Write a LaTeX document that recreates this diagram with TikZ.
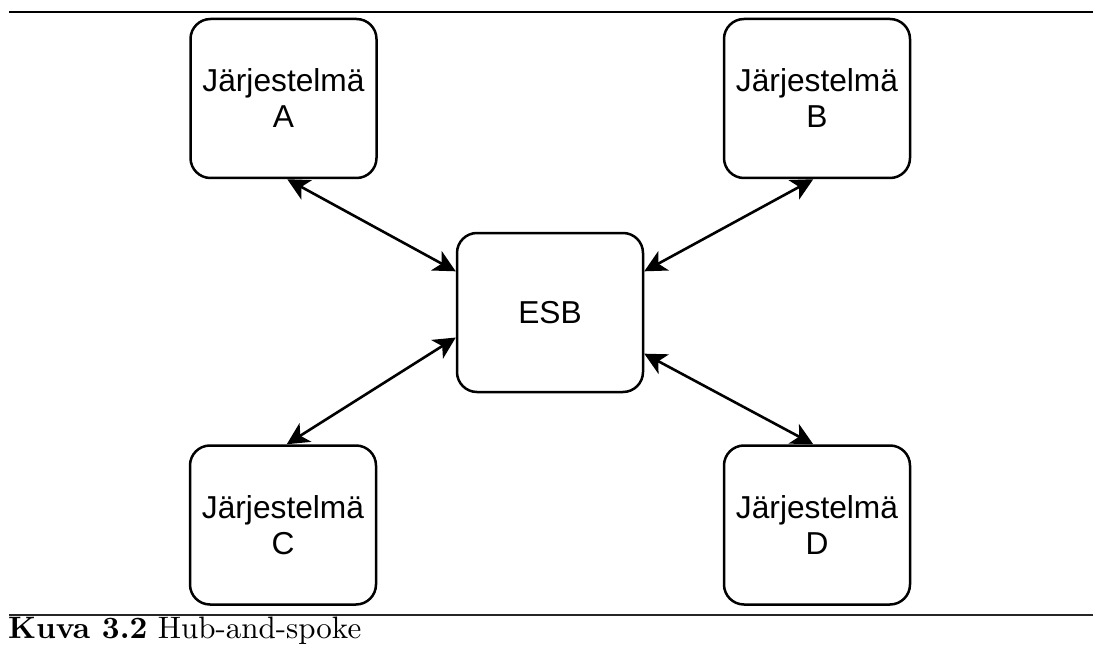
\documentclass[tikz,border=0pt]{standalone}
\usepackage{fontspec}
\newfontfamily\sysfont{Liberation Sans}
\newfontfamily\capfont{lmroman10-regular.otf}[BoldFont=lmroman10-bold.otf]
\usetikzlibrary{arrows.meta,calc}
\begin{document}
\begin{tikzpicture}[x=1pt,y=-1pt,
  sysbox/.style={draw, line width=2.5pt, rounded corners=20pt,
    minimum width=186pt, minimum height=159pt, inner sep=0pt, align=center,
    font={\sysfont\fontsize{31.7}{36}\selectfont}},
  link/.style={line width=2.6pt,
    {Stealth[length=22pt,width=22pt,inset=6pt]}-{Stealth[length=22pt,width=22pt,inset=6pt]}}]
\useasboundingbox (0,0) rectangle (1093,650);
% rules
\coordinate (tl) at (9,12);
\coordinate (tr) at (1093,12);
\coordinate (bl) at (9,615);
\coordinate (br) at (1093,615);
\draw[line width=2.5pt] (tl) -- (tr);
\draw[line width=1.5pt, black!85] (bl) -- (br);
% boxes
\node[sysbox] (A) at (283.5,98.5) {Järjestelmä\\A};
\node[sysbox] (B) at (817,98.5) {Järjestelmä\\B};
\node[sysbox] (ESB) at (550,312.5) {ESB};
\node[sysbox] (C) at (283,525) {Järjestelmä\\C};
\node[sysbox] (D) at (817,525) {Järjestelmä\\D};
% connectors
\draw[link] ($(A.south west)!0.52!(A.south east)$) -- ($(ESB.north west)!0.245!(ESB.south west)$);
\draw[link] ($(B.south west)!0.48!(B.south east)$) -- ($(ESB.north east)!0.245!(ESB.south east)$);
\draw[link] ($(ESB.north west)!0.655!(ESB.south west)$) -- ($(C.north west)!0.52!(C.north east)$);
\draw[link] ($(ESB.north east)!0.755!(ESB.south east)$) -- ($(D.north west)!0.48!(D.north east)$);
% caption
\node[anchor=base west, inner sep=0pt, font={\capfont\fontsize{31}{37}\selectfont}] (cap) at (8,638) {\textbf{Kuva 3.2} Hub-and-spoke};
\end{tikzpicture}
\end{document}
